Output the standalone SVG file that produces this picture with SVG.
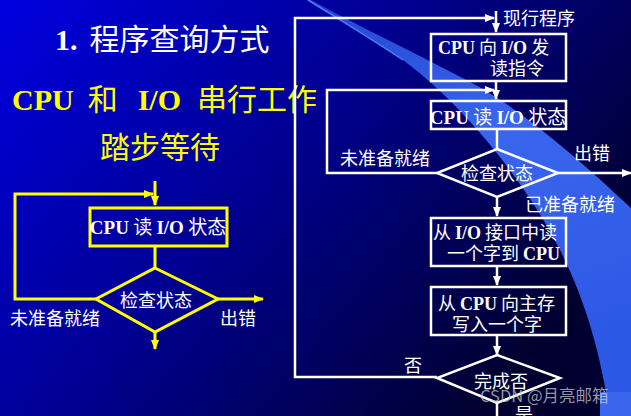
<svg xmlns="http://www.w3.org/2000/svg" width="631" height="416" viewBox="0 0 631 416">
<defs>
<linearGradient id="bg" x1="0" y1="0" x2="1" y2="0.55">
<stop offset="0" stop-color="#0000e0"/>
<stop offset="0.5" stop-color="#000090"/>
<stop offset="1" stop-color="#000030"/>
</linearGradient>
<linearGradient id="band" x1="0" y1="0" x2="0.3" y2="1">
<stop offset="0" stop-color="#2244d0"/>
<stop offset="0.45" stop-color="#3a66ee"/>
<stop offset="1" stop-color="#2c58e6"/>
</linearGradient>
<marker id="aw" viewBox="0 0 10 10" refX="9" refY="5" markerWidth="4" markerHeight="4" orient="auto" markerUnits="strokeWidth">
<path d="M0,1 L10,5 L0,9 z" fill="#ffffff"/>
</marker>
<marker id="ay" viewBox="0 0 10 10" refX="9" refY="5" markerWidth="3.5" markerHeight="3.5" orient="auto" markerUnits="strokeWidth">
<path d="M0,1 L10,5 L0,9 z" fill="#ffff00"/>
</marker>
<style>
.cj{font-family:"Noto Sans CJK SC","Noto Sans",sans-serif;}
.lt{font-family:"Liberation Serif","Times New Roman",serif;font-weight:bold;}
.w{fill:#ffffff;}
.y{fill:#ffff00;}
.lw{fill:none;stroke:#ffffff;stroke-width:2.5;}
.ly{fill:none;stroke:#ffff00;stroke-width:3;}
.bw{fill:none;stroke:#ffffff;stroke-width:2.5;}
.by{fill:none;stroke:#ffff00;stroke-width:3;}
.t18{font-size:18px;}
.t19{font-size:19px;}
</style>
</defs>
<rect width="631" height="416" fill="url(#bg)"/>
<path d="M307,0 L311,0 C350,22 410,50 470,82 C520,108 580,160 631,208 L631,416 L610,416 C600,350 585,300 560,250 C530,190 470,110 403,60 C370,38 340,20 307,0 Z" fill="url(#band)"/>
<path d="M308,0 C340,20 370,38 403,60" fill="none" stroke="#4a7af5" stroke-width="1.5"/>
<rect x="600" y="392" width="31" height="24" fill="#3a66ee"/>

<g id="title">
<text x="55" y="50" class="w" font-size="30"><tspan class="lt">1.</tspan><tspan class="cj" dx="12">程序查询方式</tspan></text>
<text x="12" y="110" class="y" font-size="30"><tspan class="lt">CPU</tspan><tspan class="cj" dx="14">和</tspan><tspan class="lt" dx="20">I/O</tspan><tspan class="cj" dx="16">串行工作</tspan></text>
<text x="160" y="158" class="y cj" font-size="30" text-anchor="middle">踏步等待</text>
</g>

<g id="connectors">
<line x1="155" y1="181" x2="155" y2="205" class="ly" marker-end="url(#ay)"/>
<polyline points="96,299 15,299 15,194 153,194" class="ly" marker-end="url(#ay)"/>
<line x1="155" y1="246" x2="155" y2="268" class="ly"/>
<line x1="218" y1="299" x2="263" y2="299" class="ly" marker-end="url(#ay)"/>
<line x1="155" y1="332" x2="155" y2="349" class="ly" marker-end="url(#ay)"/>
<line x1="496" y1="11" x2="496" y2="32" class="lw" marker-end="url(#aw)"/>
<polyline points="437,377 295,377 295,18 494,18" class="lw" marker-end="url(#aw)"/>
<line x1="496" y1="82" x2="496" y2="99" class="lw" marker-end="url(#aw)"/>
<polyline points="437,173 327,173 327,90 494,90" class="lw" marker-end="url(#aw)"/>
<line x1="497" y1="129" x2="497" y2="149" class="lw"/>
<line x1="558" y1="173" x2="631" y2="173" class="lw" marker-end="url(#aw)"/>
<line x1="497" y1="197" x2="497" y2="216" class="lw" marker-end="url(#aw)"/>
<line x1="497" y1="267" x2="497" y2="285" class="lw" marker-end="url(#aw)"/>
<line x1="497" y1="336" x2="497" y2="355" class="lw" marker-end="url(#aw)"/>
<line x1="497" y1="403" x2="497" y2="416" class="lw"/>
</g>

<g id="left-read">
<rect x="90" y="208" width="137" height="38" class="by"/>
<text x="158" y="234" class="w t19" text-anchor="middle"><tspan class="lt">CPU</tspan><tspan class="cj"> 读 </tspan><tspan class="lt">I/O</tspan><tspan class="cj"> 状态</tspan></text>
</g>
<g id="left-check">
<polygon points="155,268 218,299 155,332 96,299" class="by"/>
<text x="156" y="307" class="w cj t18" text-anchor="middle">检查状态</text>
</g>
<g id="left-labels">
<text x="10" y="325" class="w cj t18">未准备就绪</text>
<text x="220" y="325" class="w cj t18">出错</text>
</g>

<g id="r-start"><text x="503" y="25" class="w cj t18">现行程序</text></g>
<g id="r-send">
<rect x="431" y="34" width="135" height="47" class="bw"/>
<text x="438" y="54" class="w t18"><tspan class="lt">CPU</tspan><tspan class="cj"> 向 </tspan><tspan class="lt">I/O</tspan><tspan class="cj"> 发</tspan></text>
<text x="490" y="75" class="w cj t18">读指令</text>
</g>
<g id="r-read">
<rect x="431" y="101" width="135" height="28" class="bw"/>
<text x="498" y="124" class="w t19" text-anchor="middle"><tspan class="lt">CPU</tspan><tspan class="cj"> 读 </tspan><tspan class="lt">I/O</tspan><tspan class="cj"> 状态</tspan></text>
</g>
<g id="r-check">
<polygon points="497,149 558,173 497,197 437,173" class="bw"/>
<text x="497" y="180" class="w cj t18" text-anchor="middle">检查状态</text>
</g>
<g id="r-labels">
<text x="340" y="165" class="w cj t18">未准备就绪</text>
<text x="574" y="160" class="w cj t18">出错</text>
<text x="525" y="211" class="w cj t18">已准备就绪</text>
<text x="404" y="372" class="w cj t18">否</text>
<text x="515" y="421" class="w cj t18">是</text>
</g>
<g id="r-readword">
<rect x="431" y="218" width="135" height="48" class="bw"/>
<text x="433" y="239" class="w t18"><tspan class="cj">从 </tspan><tspan class="lt">I/O</tspan><tspan class="cj"> 接口中读</tspan></text>
<text x="447" y="260" class="w t18"><tspan class="cj">一个字到 </tspan><tspan class="lt">CPU</tspan></text>
</g>
<g id="r-write">
<rect x="431" y="287" width="135" height="48" class="bw"/>
<text x="438" y="310" class="w t18"><tspan class="cj">从 </tspan><tspan class="lt">CPU</tspan><tspan class="cj"> 向主存</tspan></text>
<text x="452" y="331" class="w cj t18">写入一个字</text>
</g>
<g id="r-done">
<polygon points="497,355 560,378 497,403 437,378" class="bw"/>
<text x="501" y="388" class="w cj t18" text-anchor="middle">完成否</text>
</g>
<text x="480" y="402" font-family="'Noto Sans CJK SC','Noto Sans',sans-serif" font-size="16.5" fill="#c8c8d0" fill-opacity="0.75">CSDN @月亮邮箱</text>
</svg>
